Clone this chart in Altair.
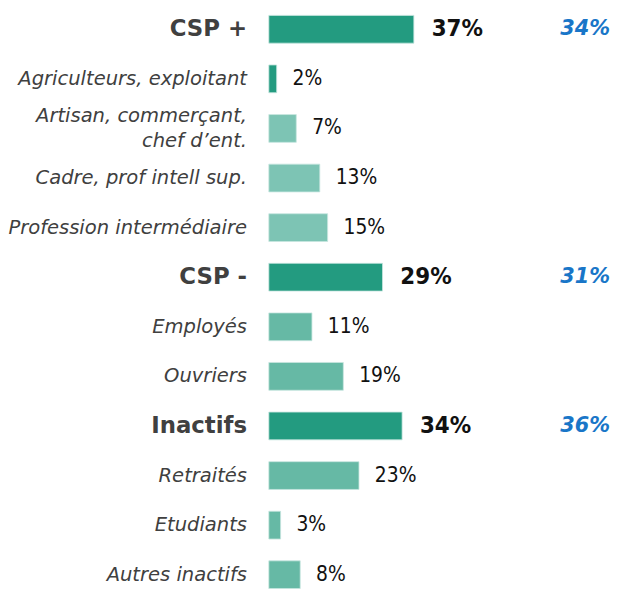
import altair as alt
import pandas as pd

keys = ["CSP +", "Agriculteurs", "Artisan", "Cadre", "Profession",
        "CSP -", "Employés", "Ouvriers", "Inactifs", "Retraités", "Etudiants", "Autres"]
labels = ["CSP +", "Agriculteurs, exploitant", "Artisan, commerçant,\nchef d\u2019ent.",
          "Cadre, prof intell sup.", "Profession intermédiaire",
          "CSP -", "Employés", "Ouvriers", "Inactifs", "Retraités", "Etudiants", "Autres inactifs"]
values = [37, 2, 7, 13, 15, 29, 11, 19, 34, 23, 3, 8]
levels = ["main", "sub", "sub", "sub", "sub", "main", "sub", "sub", "main", "sub", "sub", "sub"]
colors = ["#239B80", "#239B80", "#7DC4B4", "#7DC4B4", "#7DC4B4",
          "#239B80", "#66B9A5", "#66B9A5", "#239B80", "#66B9A5", "#66B9A5", "#66B9A5"]
comparison = ["34%", "", "", "", "", "31%", "", "", "36%", "", "", ""]

df = pd.DataFrame({
    "key": keys, "label": labels, "value": values, "level": levels,
    "color": colors, "comp": comparison,
})
df["vlabel"] = df["value"].astype(str) + "%"
df["multi"] = df["label"].str.contains("\n")

y = alt.Y("key:N", sort=keys, axis=None,
          scale=alt.Scale(paddingInner=0.44, paddingOuter=0.1))
x = alt.X("value:Q", axis=None, scale=alt.Scale(domain=[0, 87.3], nice=False, zero=True))

base = alt.Chart(df)

bars = base.mark_bar(stroke="#C8E6DF", strokeWidth=0.8).encode(
    x=x, y=y, color=alt.Color("color:N", scale=None))

main_lbl = base.transform_filter("datum.level == 'main'").mark_text(
    align="right", baseline="middle", font="DejaVu Sans", fontWeight="bold",
    fontSize=23, color="#404040").encode(
    x=alt.value(-22), y=y, text="label:N")

sub_lbl = base.transform_filter(
    "datum.level == 'sub' && !datum.multi").mark_text(
    align="right", baseline="middle", font="DejaVu Sans", fontStyle="italic",
    fontSize=19.7, color="#404040").encode(
    x=alt.value(-22), y=y, text="label:N")

sub_lbl2 = base.transform_filter("datum.multi").mark_text(
    align="right", baseline="middle", font="DejaVu Sans", fontStyle="italic",
    fontSize=19.7, color="#404040", lineBreak="\n", lineHeight=25, dy=-12.5).encode(
    x=alt.value(-22), y=y, text="label:N")

main_val = base.transform_filter("datum.level == 'main'").mark_text(
    align="left", baseline="middle", dx=18, font="Liberation Sans Narrow, DejaVu Sans Condensed",
    fontWeight="bold", fontSize=24, color="#111111").encode(
    x=x, y=y, text="vlabel:N")

sub_val = base.transform_filter("datum.level == 'sub'").mark_text(
    align="left", baseline="middle", dx=16, font="Liberation Sans Narrow, DejaVu Sans Condensed",
    fontSize=21, color="#111111").encode(
    x=x, y=y, text="vlabel:N")

comp_val = base.transform_filter("datum.level == 'main'").mark_text(
    align="right", baseline="middle", font="DejaVu Sans", fontWeight="bold",
    fontStyle="italic", fontSize=21, color="#1976C8").encode(
    x=alt.value(344), y=y, text="comp:N")

chart = alt.layer(bars, main_lbl, sub_lbl, sub_lbl2, main_val, sub_val, comp_val).properties(
    width=345, height=588,
    autosize=alt.AutoSizeParams(type="none"),
    padding={"left": 263, "top": 0, "right": 0, "bottom": 0},
).configure_view(stroke=None)

chart.save("out.html", embed_options={"renderer": "svg", "actions": False})
